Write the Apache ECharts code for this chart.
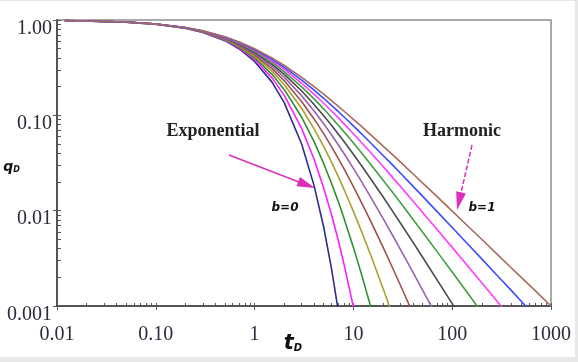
<!DOCTYPE html>
<html>
<head>
<meta charset="utf-8">
<script src="https://cdn.jsdelivr.net/npm/echarts@6/dist/echarts.min.js"></script>
<style>
  html, body { margin: 0; padding: 0; background: #e8e8e8; }
  #chart { position: absolute; left: 0; top: 1px; width: 575px; height: 356px; background: #fff; }
</style>
</head>
<body>
<div id="chart"></div>
<script>
  // dimensionless time, shared by all curves
  const tD = [0.012, 0.05, 0.1, 0.2, 0.3, 0.5, 0.7, 1, 1.5, 2, 3, 4, 5, 6, 7, 8, 10, 12, 15, 20,
    25, 30, 40, 50, 70, 100, 150, 200, 300, 400, 500, 700, 1000];

  // qD, b = 0 ... 1
  const qB00 = [0.988, 0.951, 0.905, 0.819, 0.741, 0.607, 0.497, 0.368, 0.223, 0.135, 0.0498, 0.0183, 0.00674, 0.00248, 0.000912];
  const qB01 = [0.988, 0.951, 0.905, 0.820, 0.744, 0.614, 0.508, 0.386, 0.247, 0.162, 0.0725, 0.0346, 0.0173, 0.0091, 0.00496, 0.0028, 0.000977];
  const qB02 = [0.988, 0.951, 0.906, 0.822, 0.747, 0.621, 0.519, 0.402, 0.269, 0.186, 0.0954, 0.0529, 0.0313, 0.0194, 0.0126, 0.00841, 0.00412, 0.0022, 0.000977];
  const qB03 = [0.988, 0.951, 0.906, 0.824, 0.750, 0.628, 0.530, 0.417, 0.290, 0.209, 0.118, 0.0722, 0.0472, 0.0323, 0.0230, 0.0169, 0.00984, 0.00618, 0.0034, 0.00152, 0.000798];
  const qB04 = [0.988, 0.952, 0.907, 0.825, 0.753, 0.634, 0.540, 0.431, 0.309, 0.230, 0.139, 0.0917, 0.0642, 0.0469, 0.0355, 0.0277, 0.0179, 0.0123, 0.00772, 0.00412, 0.00249, 0.00164, 0.000839];
  const qB05 = [0.988, 0.952, 0.907, 0.826, 0.756, 0.640, 0.549, 0.444, 0.327, 0.250, 0.160, 0.111, 0.0816, 0.0625, 0.0494, 0.0400, 0.0278, 0.0204, 0.0138, 0.00826, 0.00549, 0.00391, 0.00227, 0.00148, 0.000772];
  const qB06 = [0.988, 0.952, 0.907, 0.828, 0.759, 0.646, 0.557, 0.457, 0.343, 0.269, 0.180, 0.130, 0.0992, 0.0786, 0.0641, 0.0534, 0.0390, 0.0300, 0.0215, 0.0139, 0.00984, 0.00739, 0.00468, 0.00327, 0.00189, 0.00106, 0.000543];
  const qB07 = [0.988, 0.952, 0.908, 0.829, 0.762, 0.651, 0.566, 0.469, 0.359, 0.286, 0.199, 0.149, 0.117, 0.0949, 0.0792, 0.0675, 0.0513, 0.0407, 0.0305, 0.0209, 0.0155, 0.0121, 0.00814, 0.00598, 0.00374, 0.00227, 0.00128, 0.00085];
  const qB08 = [0.988, 0.952, 0.908, 0.831, 0.764, 0.657, 0.574, 0.480, 0.373, 0.303, 0.217, 0.166, 0.134, 0.111, 0.0945, 0.0819, 0.0642, 0.0523, 0.0405, 0.0290, 0.0222, 0.0179, 0.0126, 0.00963, 0.00638, 0.00412, 0.00249, 0.00174, 0.00105, 0.000736];
  const qB09 = [0.988, 0.952, 0.909, 0.832, 0.767, 0.662, 0.581, 0.490, 0.387, 0.319, 0.234, 0.184, 0.151, 0.127, 0.110, 0.0966, 0.0774, 0.0644, 0.0512, 0.0379, 0.0300, 0.0247, 0.0181, 0.0142, 0.00984, 0.00666, 0.00426, 0.0031, 0.00198, 0.00144, 0.00112, 0.000774];
  const qB10 = [0.988, 0.952, 0.909, 0.833, 0.769, 0.667, 0.588, 0.500, 0.400, 0.333, 0.250, 0.200, 0.167, 0.143, 0.125, 0.111, 0.0909, 0.0769, 0.0625, 0.0476, 0.0385, 0.0323, 0.0244, 0.0196, 0.0141, 0.0099, 0.00662, 0.00498, 0.00332, 0.00249, 0.002, 0.00143, 0.000999];

  const bValues = ['0', '0.1', '0.2', '0.3', '0.4', '0.5', '0.6', '0.7', '0.8', '0.9', '1'];
  const qCurves = [qB00, qB01, qB02, qB03, qB04, qB05, qB06, qB07, qB08, qB09, qB10];

  // tick labels
  const xMajor = [0.01, 0.1, 1, 10, 100, 1000];
  const xTickLabels = ['0.01', '0.10', '1', '10', '100', '1000'];
  const yMajor = [0.001, 0.01, 0.1, 1];
  const yTickLabels = ['0.001', '0.01', '0.10', '1.00'];

  const lineColors = ['#2b2f86', '#ff1fff', '#2f8f2f', '#a8a030', '#a0524a', '#9a62b0',
    '#4a4a4a', '#3f9f3f', '#ff3cff', '#3c4cff', '#a86a5e'];

  function decadeTicks(majors) {
    const out = [];
    majors.forEach((m, i) => {
      if (i === majors.length - 1) { out.push(m); return; }
      for (let k = 1; k < 10; k++) out.push(+(m * k).toPrecision(3));
    });
    return out;
  }

  function labelFor(majors, labels) {
    return function (v) {
      const e = Math.round(Math.log10(v));
      const i = majors.findIndex(m => Math.round(Math.log10(m)) === e);
      return i >= 0 ? labels[i] : '';
    };
  }

  const serif = '"Liberation Serif", "DejaVu Serif", serif';
  const sans = '"DejaVu Sans", Verdana, sans-serif';
  const axisColor = '#3a3a3a';
  const labelColor = '#2b2b3b';
  const arrowColor = '#dc30b8';

  const series = qCurves.map((q, k) => ({
    name: 'b=' + bValues[k],
    type: 'line',
    data: q.map((v, i) => [tD[i], v]),
    showSymbol: false,
    smooth: false,
    lineStyle: { width: 1.6, color: lineColors[k] },
    itemStyle: { color: lineColors[k] },
    emphasis: { disabled: true },
    z: 2
  }));

  const chart = echarts.init(document.getElementById('chart'));
  chart.setOption({
    animation: false,
    grid: {
      left: 57, right: 24, top: 19, bottom: 51,
      show: true, borderColor: '#a9a9a9', borderWidth: 2,
      outerBoundsMode: 'none'
    },
    xAxis: [{
      type: 'log', logBase: 10, min: 0.01, max: 1000, position: 'bottom',
      name: '{t|t}{d|D}', nameLocation: 'middle', nameGap: 27, nameMoveOverlap: false,
      nameTextStyle: {
        padding: [0, 22, 0, 0],
        rich: {
          t: { fontFamily: sans, fontSize: 21, fontWeight: 'bold', fontStyle: 'italic', color: '#111' },
          d: { fontFamily: sans, fontSize: 10, fontWeight: 'bold', fontStyle: 'italic', color: '#111', padding: [10, 0, 0, 0] }
        }
      },
      axisLine: { show: true, onZero: false, lineStyle: { color: axisColor, width: 1.5 } },
      axisTick: { show: true, inside: true, length: 3, customValues: decadeTicks(xMajor), lineStyle: { color: '#555' } },
      axisLabel: {
        customValues: xMajor, formatter: labelFor(xMajor, xTickLabels),
        margin: 19, fontFamily: serif, fontSize: 20, color: labelColor
      },
      splitLine: { show: false }
    }, {
      type: 'log', logBase: 10, min: 0.01, max: 1000, position: 'bottom',
      axisLine: { show: false },
      axisTick: { show: true, inside: false, length: 4, customValues: xMajor, lineStyle: { color: '#555' } },
      axisLabel: { show: false },
      splitLine: { show: false }
    }],
    yAxis: [{
      type: 'log', logBase: 10, min: 0.001, max: 1, position: 'left',
      name: '{q|q}{d|D}', nameLocation: 'middle', nameRotate: 0, nameGap: 37, nameMoveOverlap: false,
      nameTextStyle: {
        padding: [8, 0, 0, 0],
        rich: {
          q: { fontFamily: sans, fontSize: 14, fontWeight: 'bold', fontStyle: 'italic', color: '#111' },
          d: { fontFamily: sans, fontSize: 8, fontWeight: 'bold', fontStyle: 'italic', color: '#111', padding: [6, 0, 0, 0] }
        }
      },
      axisLine: { show: true, onZero: false, lineStyle: { color: axisColor, width: 1.5 } },
      axisTick: { show: true, inside: true, length: 4, customValues: decadeTicks(yMajor), lineStyle: { color: '#555' } },
      axisLabel: {
        customValues: yMajor, formatter: labelFor(yMajor, yTickLabels),
        margin: 5, fontFamily: serif, fontSize: 20, color: labelColor,
        verticalAlign: 'top', lineHeight: 17
      },
      splitLine: { show: false }
    }, {
      type: 'log', logBase: 10, min: 0.001, max: 1, position: 'left',
      axisLine: { show: false },
      axisTick: { show: true, inside: false, length: 4, customValues: yMajor, lineStyle: { color: '#555' } },
      axisLabel: { show: false },
      splitLine: { show: false }
    }],
    graphic: [
      { type: 'text', x: 213, y: 130, style: { text: 'Exponential', font: 'bold 18px ' + serif, fill: '#222', align: 'center', verticalAlign: 'middle' } },
      { type: 'text', x: 462, y: 130, style: { text: 'Harmonic', font: 'bold 18px ' + serif, fill: '#222', align: 'center', verticalAlign: 'middle' } },
      { type: 'text', x: 285, y: 207, style: { text: 'b=0', font: 'italic bold 12px ' + sans, fill: '#111', align: 'center', verticalAlign: 'middle' } },
      { type: 'text', x: 482, y: 207, style: { text: 'b=1', font: 'italic bold 12px ' + sans, fill: '#111', align: 'center', verticalAlign: 'middle' } },
      { type: 'line', shape: { x1: 229, y1: 154, x2: 299, y2: 181 }, style: { stroke: arrowColor, lineWidth: 1.5 } },
      { type: 'polygon', shape: { points: [[315, 187], [300, 175.9], [296.4, 185.3]] }, style: { fill: arrowColor } },
      { type: 'line', shape: { x1: 472, y1: 144, x2: 461, y2: 192 }, style: { stroke: arrowColor, lineWidth: 1.5, lineDash: [5, 2] } },
      { type: 'polygon', shape: { points: [[457, 209], [456.2, 190.3], [465.9, 192.6]] }, style: { fill: arrowColor } }
    ],
    series: series
  });
</script>
</body>
</html>
